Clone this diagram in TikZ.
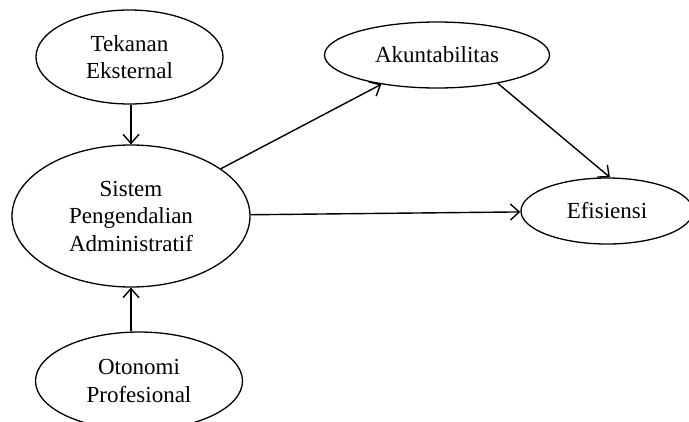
\documentclass[tikz,border=0pt]{standalone}
\usepackage{fontspec}
\setmainfont{Liberation Serif}
\usetikzlibrary{shapes.geometric,arrows.meta}
\begin{document}
\begin{tikzpicture}[x=1pt,y=-1pt,
  var/.style={draw,ellipse,line width=1.3pt,inner sep=0pt,align=center,
    font=\fontsize{23}{27.5}\selectfont},
  arr/.style={line width=1.4pt,-{Straight Barb[length=9pt,width=16pt,line width=1.4pt]}}]
\useasboundingbox (0,0) rectangle (689,421);
\clip (0,0) rectangle (689,421);
\node[var,minimum width=187pt,minimum height=94pt] (tek) at (129.5,57) {Tekanan\\Eksternal};
\node[var,minimum width=238pt,minimum height=142pt] (sis) at (131,216) {Sistem\\Pengendalian\\Administratif};
\node[var,minimum width=207pt,minimum height=98pt] (oto) at (139,381) {Otonomi\\Profesional};
\node[var,minimum width=225pt,minimum height=66pt] (akun) at (437,55) {Akuntabilitas};
\node[var,minimum width=172pt,minimum height=66pt] (efi) at (607,211) {Efisiensi};
\draw[arr] (tek.south -| sis.north) -- (sis.north);
\draw[arr] (oto.north -| sis.south) -- (sis.south);
\draw[arr] (sis) -- (akun);
\draw[arr] (sis) -- (efi);
\draw[arr] (akun.-25) -- (efi.85);
\end{tikzpicture}
\end{document}
